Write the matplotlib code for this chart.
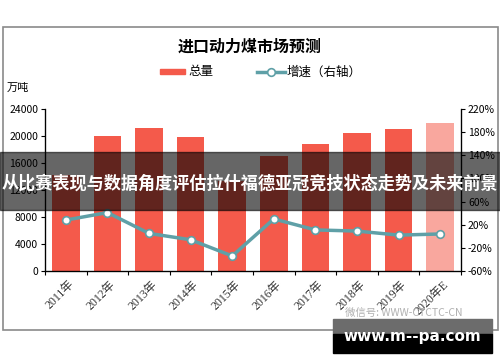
import matplotlib.pyplot as plt
from matplotlib.patches import Rectangle
import numpy as np

plt.rcParams['font.family'] = ['Noto Sans CJK SC', 'DejaVu Sans']

# 数据
years = ['2011年', '2012年', '2013年', '2014年', '2015年', '2016年', '2017年', '2018年', '2019年', '2020年E']
total = [14200, 20000, 21150, 19800, 13400, 17000, 18800, 20450, 21000, 21900]
growth = [28, 41, 5, -6, -34, 30, 11, 9, 2, 4]

bar_color = '#F45A4B'
bar_light = '#F9A79E'
line_color = '#5FA0A7'

fig = plt.figure(figsize=(5, 3.62), dpi=100)

# 外框
fig.patches.append(Rectangle((3 / 500, 1 - 330 / 362), 495 / 500, 303 / 362,
                             transform=fig.transFigure, fill=False,
                             edgecolor='#8a8a8a', linewidth=1.2, zorder=0))

ax = fig.add_axes([0.09, 1 - 271 / 362, 0.832, 162 / 362])
x = np.arange(len(years))
colors = [bar_color] * (len(years) - 1) + [bar_light]
ax.bar(x, total, width=0.66, color=colors, zorder=2)
ax.set_xlim(-0.5, len(years) - 0.5)
ax.set_ylim(0, 24000)
ax.set_yticks(np.arange(0, 24001, 4000))
ax.tick_params(axis='y', labelsize=7.5, length=3, width=0.8, pad=2)
ax.set_xticks(np.arange(-0.5, len(years), 1))
ax.set_xticklabels([])
ax.tick_params(axis='x', length=3, width=0.8)
for i, lab in enumerate(years):
    ax.text(i + 0.05, -1100, lab, rotation=45, ha='right', va='top', rotation_mode='anchor',
            fontsize=8.5, color='#333333', family=['Liberation Serif', 'Noto Sans CJK SC'])
ax.spines['top'].set_visible(False)
for s in ['left', 'right', 'bottom']:
    ax.spines[s].set_linewidth(0.9)

ax2 = ax.twinx()
ax2.plot(x, growth, color=line_color, linewidth=2.5, marker='o', markersize=5.5,
         markerfacecolor='white', markeredgecolor=line_color, markeredgewidth=1.2, zorder=3)
ax2.set_ylim(-60, 220)
ax2.set_yticks(np.arange(-60, 221, 40))
ax2.set_yticklabels([f'{v}%' for v in range(-60, 221, 40)])
ax2.tick_params(axis='y', labelsize=7.5, length=3, width=0.8, pad=2)
ax2.spines['top'].set_visible(False)

# 标题与图例
fig.text(0.5, 1 - 47 / 362, '进口动力煤市场预测', ha='center', va='center',
         fontsize=11.5, fontweight='bold')
fig.patches.append(Rectangle((160 / 500, 1 - 74 / 362), 25 / 500, 5 / 362,
                             transform=fig.transFigure, color=bar_color))
fig.text(188 / 500, 1 - 72 / 362, '总量', va='center', fontsize=9)
fig.lines.append(plt.Line2D([257 / 500, 285 / 500], [1 - 72 / 362] * 2, transform=fig.transFigure,
                            color=line_color, linewidth=2.5))
fig.lines.append(plt.Line2D([271 / 500], [1 - 72 / 362], transform=fig.transFigure,
                            color=line_color, marker='o', markersize=5.5,
                            markerfacecolor='white', markeredgewidth=1.2))
fig.text(287 / 500, 1 - 72 / 362, '增速（右轴）', va='center', fontsize=9)
fig.text(7 / 500, 1 - 88 / 362, '万吨', va='center', fontsize=8)

# 水印
fig.text(345 / 500, 1 - 313 / 362, '微信号: WWW-CTCTC-CN', va='center', fontsize=7.5,
         color='#b0b0b0')

# 横幅
fig.patches.append(Rectangle((0, 1 - 210 / 362), 1, 58 / 362, transform=fig.transFigure,
                             color='black', alpha=0.6, zorder=10))
fig.text(0.5, 1 - 184 / 362, '从比赛表现与数据角度评估拉什福德亚冠竞技状态走势及未来前景',
         ha='center', va='center', fontsize=12.3, fontweight='bold', color='white', zorder=11)

# 右下角网址框
fig.patches.append(Rectangle((333 / 500, 1 - 334 / 362), 159 / 500, 15 / 362,
                             transform=fig.transFigure, color='#6c6c6c', zorder=10))
fig.patches.append(Rectangle((333 / 500, 1 - 353 / 362), 159 / 500, 19 / 362,
                             transform=fig.transFigure, color='black', zorder=10))
fig.text(412 / 500, 1 - 336 / 362, 'www.m--pa.com', ha='center', va='center',
         fontsize=11, fontweight='bold', color='white', family='DejaVu Sans', zorder=11)

fig.savefig('out.png', dpi=100)
